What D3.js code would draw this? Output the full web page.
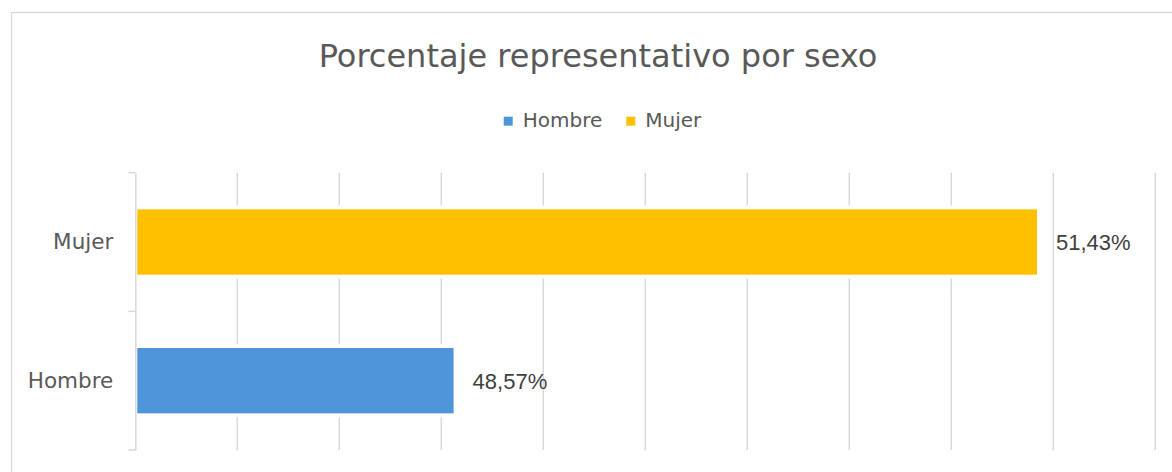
<html lang="es">
<head>
  <meta http-equiv="Content-Type" content="text/html; charset=utf-8" />
  <script src="https://d3js.org/d3.v7.min.js"></script>
  <style>
    body { margin: 0; background: #fff; }
  </style>
</head>
<body>
  <div id="divId"></div>
  <script>
    'use strict';
    const title = "Porcentaje representativo por sexo";
    const categories = ["Hombre", "Mujer"];
    const values = [48.57, 51.43];
    const colorsList = ["#4E95D9", "#FFC000"];
    const axisMin = 47;
    const axisMax = 52;

    const width = 1172;
    const height = 472;
    const textFont = "DejaVu Sans";
    const labelFont = "Liberation Sans, Arial";

    const svg = d3.select("#divId")
      .append("svg")
      .attr("width", width)
      .attr("height", height);

    // chart frame (cropped on right and bottom)
    svg.append("rect")
      .attr("x", 11.5).attr("y", 12.5)
      .attr("width", 1200).attr("height", 500)
      .attr("fill", "white")
      .attr("stroke", "#d9d9d9")
      .attr("stroke-width", 1.3);

    const x = d3.scaleLinear().domain([axisMin, axisMax]).range([135.3, 1155.3]);
    const y = d3.scaleBand()
      .domain(categories.slice().reverse())
      .range([172.7, 450])
      .paddingInner(0.5)
      .paddingOuter(0.25);
    const color = d3.scaleOrdinal().domain(categories).range(colorsList);

    // gridlines
    svg.append("g")
      .selectAll("line")
      .data(x.ticks(10).filter(d => d > axisMin))
      .join("line")
      .attr("x1", d => x(d)).attr("x2", d => x(d))
      .attr("y1", 172.7).attr("y2", 450)
      .attr("stroke", "#d9d9d9")
      .attr("stroke-width", 1.5);

    // bars
    const rows = categories.map((c, i) => ({cat: c, value: values[i]}));
    svg.append("g")
      .selectAll("rect")
      .data(rows)
      .join("rect")
      .attr("x", x(axisMin))
      .attr("y", d => y(d.cat))
      .attr("width", d => x(d.value) - x(axisMin))
      .attr("height", y.bandwidth())
      .attr("fill", d => color(d.cat))
      .attr("stroke", "white")
      .attr("stroke-width", 4);

    // y axis
    const yAxis = svg.append("g")
      .attr("transform", `translate(${x(axisMin)},0)`)
      .call(d3.axisLeft(y).tickSize(0).tickPadding(22).tickSizeOuter(0));
    yAxis.select(".domain").attr("stroke", "#d9d9d9").attr("stroke-width", 1.5);
    yAxis.selectAll("text")
      .style("font-family", textFont)
      .style("font-size", "21.5px")
      .attr("fill", "#595959");
    // tick marks between categories
    const step = y.step();
    const tickYs = [0, 1, 2].map(i => 172.7 + i * step);
    yAxis.selectAll(".sepTick")
      .data(tickYs)
      .join("line")
      .attr("class", "sepTick")
      .attr("x1", -7).attr("x2", 0)
      .attr("y1", d => d).attr("y2", d => d)
      .attr("stroke", "#d9d9d9")
      .attr("stroke-width", 1.5);

    // data labels
    const fmt = d3.format(".2f");
    svg.append("g")
      .selectAll("text")
      .data(rows)
      .join("text")
      .attr("x", d => x(d.value) + 17)
      .attr("y", d => y(d.cat) + y.bandwidth() / 2 + 8)
      .style("font-family", labelFont)
      .style("font-size", "22px")
      .attr("fill", "#404040")
      .text(d => fmt(d.value).replace(".", ",") + "%");

    // title
    svg.append("text")
      .attr("x", 598)
      .attr("y", 67)
      .attr("text-anchor", "middle")
      .style("font-family", textFont)
      .style("font-size", "32px")
      .attr("fill", "#595959")
      .text(title);

    // legend
    const legend = svg.append("g");
    let lx = 0;
    categories.forEach((c, i) => {
      const item = legend.append("g").attr("transform", `translate(${lx},0)`);
      item.append("rect")
        .attr("x", 0).attr("y", 116.7)
        .attr("width", 9).attr("height", 9)
        .attr("fill", color(c));
      const t = item.append("text")
        .attr("x", 19).attr("y", 127)
        .style("font-family", textFont)
        .style("font-size", "20px")
        .attr("fill", "#595959")
        .text(c);
      lx += 19 + t.node().getComputedTextLength() + 24;
    });
    const legendW = lx - 24;
    legend.attr("transform", `translate(${602.5 - legendW / 2},0)`);
  </script>
</body>
</html>
